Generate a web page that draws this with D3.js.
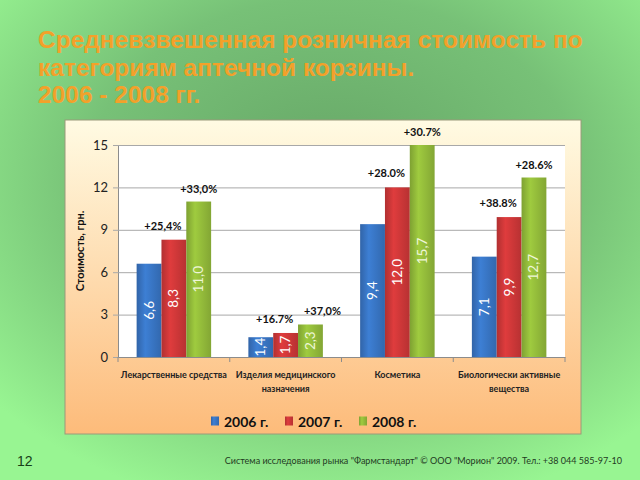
<!DOCTYPE html>
<html>
<head>
<meta charset="utf-8">
<script src="https://cdn.jsdelivr.net/npm/d3@7"></script>
<style>
  body { margin: 0; }
  svg { display: block; }
</style>
</head>
<body>
<div id="chart"></div>
<script>
const categories = ["Лекарственные средства", "Изделия медицинского назначения", "Косметика", "Биологически активные вещества"];
const catLines = [["Лекарственные средства"], ["Изделия медицинского", "назначения"], ["Косметика"], ["Биологически активные", "вещества"]];
const years = ["2006 г.", "2007 г.", "2008 г."];
const v2006 = [6.6, 1.4, 9.4, 7.1];
const v2007 = [8.3, 1.7, 12.0, 9.9];
const v2008 = [11.0, 2.3, 15.7, 12.7];
const growth2007 = ["+25,4%", "+16.7%", "+28.0%", "+38.8%"];
const growth2008 = ["+33,0%", "+37,0%", "+30.7%", "+28.6%"];
const yTicks = [0, 3, 6, 9, 12, 15];
const titleLines = ["Средневзвешенная розничная стоимость по", "категориям аптечной корзины.", "2006 - 2008 гг."];

const colors = ["#3a78c9", "#d3393a", "#97c03c"];
const series = [v2006, v2007, v2008];

const W = 640, H = 480;
const svg = d3.select("#chart").append("svg")
    .attr("width", W).attr("height", H);

const defs = svg.append("defs");
const bg = defs.append("radialGradient").attr("id", "bg")
    .attr("cx", "52%").attr("cy", "38%").attr("r", "70%");
bg.append("stop").attr("offset", "0%").attr("stop-color", "#66a566");
bg.append("stop").attr("offset", "55%").attr("stop-color", "#77c177");
bg.append("stop").attr("offset", "100%").attr("stop-color", "#98f592");

const panelGrad = defs.append("linearGradient").attr("id", "panel")
    .attr("x1", 0).attr("y1", 0).attr("x2", 0).attr("y2", 1);
panelGrad.append("stop").attr("offset", "0%").attr("stop-color", "#fffbe3");
panelGrad.append("stop").attr("offset", "100%").attr("stop-color", "#fdbb7a");

colors.forEach((c, i) => {
  const g = defs.append("linearGradient").attr("id", "bar" + i)
      .attr("x1", 0).attr("y1", 0).attr("x2", 1).attr("y2", 0);
  g.append("stop").attr("offset", "0%").attr("stop-color", d3.color(c).darker(0.5));
  g.append("stop").attr("offset", "35%").attr("stop-color", d3.color(c).brighter(0.15));
  g.append("stop").attr("offset", "100%").attr("stop-color", d3.color(c).darker(0.4));
});

svg.append("rect").attr("width", W).attr("height", H).attr("fill", "url(#bg)");

// title
svg.append("text")
    .attr("font-family", "Liberation Sans, Arial, sans-serif")
    .attr("font-weight", "bold")
    .attr("font-size", 24.5)
    .attr("fill", "#f3a12a")
    .selectAll("tspan")
    .data(titleLines)
    .join("tspan")
    .attr("x", 38)
    .attr("y", (d, i) => 48 + i * 27.5)
    .text(d => d);

// panel
svg.append("rect")
    .attr("x", 65).attr("y", 120).attr("width", 516).attr("height", 314)
    .attr("fill", "url(#panel)")
    .attr("stroke", "#9a9a7a").attr("stroke-width", 1);

const plot = {left: 118, right: 565, top: 145, bottom: 357};

const x = d3.scaleBand()
    .domain(categories)
    .range([plot.left, plot.right]);

const xSub = d3.scaleBand()
    .domain(years)
    .range([0, x.bandwidth()])
    .paddingInner(0)
    .paddingOuter(0.75);

// bars above the top of the axis are cut at 15, as in the original
const y = d3.scaleLinear()
    .domain([0, 15])
    .range([plot.bottom, plot.top])
    .clamp(true);

svg.append("rect")
    .attr("x", plot.left).attr("y", plot.top)
    .attr("width", plot.right - plot.left).attr("height", plot.bottom - plot.top)
    .attr("fill", "#ffffff");

// y axis with grid
const yAxis = svg.append("g")
    .attr("transform", `translate(${plot.left},0)`)
    .call(d3.axisLeft(y).tickValues(yTicks).tickSize(-(plot.right - plot.left)).tickSizeOuter(0).tickPadding(10));
yAxis.select(".domain").attr("stroke", "#8c8c8c");
yAxis.selectAll(".tick line").attr("stroke", "#a8a8a8").attr("x1", -5);
yAxis.selectAll(".tick text")
    .attr("font-family", "Lato, Open Sans, sans-serif")
    .attr("font-size", 13)
    .attr("fill", "#222");

svg.append("text")
    .attr("transform", `translate(84,${(plot.top + plot.bottom) / 2}) rotate(-90)`)
    .attr("text-anchor", "middle")
    .attr("font-family", "Lato, Open Sans, sans-serif")
    .attr("font-weight", "bold")
    .attr("font-size", 11)
    .attr("fill", "#111")
    .text("Стоимость, грн.");

// x axis
const xAxis = svg.append("g")
    .attr("transform", `translate(0,${plot.bottom})`)
    .call(d3.axisBottom(x).tickSize(0).tickFormat(""));
xAxis.select(".domain").attr("stroke", "#8c8c8c");
xAxis.selectAll(".tick").remove();
xAxis.selectAll(".sep")
    .data(d3.range(categories.length + 1))
    .join("line")
    .attr("class", "sep")
    .attr("x1", i => plot.left + i * x.step())
    .attr("x2", i => plot.left + i * x.step())
    .attr("y1", 0).attr("y2", 5)
    .attr("stroke", "#8c8c8c");

// bars
const fmt = v => d3.format(".1f")(v).replace(".", ",");
const groups = svg.append("g")
    .selectAll("g")
    .data(categories)
    .join("g")
    .attr("transform", d => `translate(${x(d)},0)`);

const cells = groups.selectAll("g")
    .data((c, ci) => years.map((yr, si) => ({yr, si, v: series[si][ci], ci})))
    .join("g");

cells.append("rect")
    .attr("x", d => xSub(d.yr))
    .attr("y", d => y(d.v))
    .attr("width", xSub.bandwidth())
    .attr("height", d => y(0) - y(d.v))
    .attr("fill", d => `url(#bar${d.si})`);

cells.append("text")
    .attr("transform", d => `translate(${xSub(d.yr) + xSub.bandwidth() / 2 + 4.5},${(y(d.v) + y(0)) / 2}) rotate(-90)`)
    .attr("text-anchor", "middle")
    .attr("font-family", "Lato, Open Sans, sans-serif")
    .attr("font-size", 13.5)
    .attr("fill", d => d.si === 2 ? "#eef6d8" : "#ffffff")
    .text(d => fmt(d.v));

// growth labels
groups.append("text")
    .attr("x", (d, i) => xSub(years[1]) + xSub.bandwidth() / 2 - 11)
    .attr("y", (d, i) => y(v2007[i]) - 10)
    .attr("text-anchor", "middle")
    .attr("font-family", "Lato, Open Sans, sans-serif")
    .attr("font-weight", "bold")
    .attr("font-size", 11)
    .attr("fill", "#111")
    .text((d, i) => growth2007[i]);

groups.append("text")
    .attr("x", (d, i) => xSub(years[2]) + xSub.bandwidth() / 2 + (i === 1 ? 12 : 0))
    .attr("y", (d, i) => y(v2008[i]) - 9)
    .attr("text-anchor", "middle")
    .attr("font-family", "Lato, Open Sans, sans-serif")
    .attr("font-weight", "bold")
    .attr("font-size", 11)
    .attr("fill", "#111")
    .text((d, i) => growth2008[i]);

// category labels
groups.append("text")
    .attr("text-anchor", "middle")
    .attr("font-family", "Lato, Open Sans, sans-serif")
    .attr("font-size", 9)
    .attr("font-weight", "bold")
    .attr("fill", "#222")
    .selectAll("tspan")
    .data((d, i) => catLines[i])
    .join("tspan")
    .attr("x", x.bandwidth() / 2)
    .attr("y", (d, i) => 378 + i * 13.5)
    .text(d => d);

// legend
const legendX = [211, 285, 359];
const legend = svg.append("g")
    .selectAll("g")
    .data(years)
    .join("g")
    .attr("transform", (d, i) => `translate(${legendX[i]},421)`);
legend.append("rect")
    .attr("x", 0).attr("y", -4.5).attr("width", 8).attr("height", 9)
    .attr("fill", (d, i) => `url(#bar${i})`);
legend.append("text")
    .attr("x", 13).attr("y", 5.5)
    .attr("font-family", "Lato, Open Sans, sans-serif")
    .attr("font-weight", "bold")
    .attr("font-size", 14)
    .attr("fill", "#111")
    .text(d => d);

// footer
svg.append("text")
    .attr("x", 17).attr("y", 466)
    .attr("font-family", "Liberation Sans, Arial, sans-serif")
    .attr("font-size", 14)
    .attr("fill", "#173f17")
    .text("12");

svg.append("text")
    .attr("x", 622).attr("y", 464)
    .attr("text-anchor", "end")
    .attr("font-family", "Lato, Open Sans, sans-serif")
    .attr("font-size", 9)
    .attr("fill", "#1f3a1f")
    .text("Система исследования рынка \"Фармстандарт\" © ООО \"Морион\" 2009. Тел.: +38 044 585-97-10");
</script>
</body>
</html>
